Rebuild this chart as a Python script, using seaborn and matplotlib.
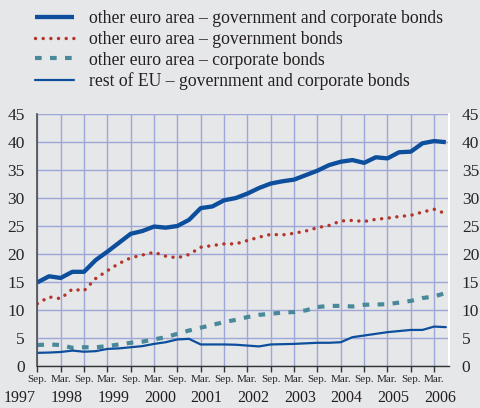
import numpy as np
import pandas as pd
import matplotlib
matplotlib.use("Agg")
import matplotlib.pyplot as plt
import seaborn as sns

# quarterly observations, Sep 1997 .. Jun 2006 (index 0 = Sep 1997)
quarters = np.arange(36)

euro_gov_corp = [14.9, 16.0, 15.7, 16.8, 16.8, 18.9, 20.4, 22.0, 23.6, 24.1,
                 24.9, 24.7, 25.0, 26.1, 28.2, 28.5, 29.6, 30.0, 30.8, 31.8,
                 32.6, 33.0, 33.3, 34.1, 34.9, 35.9, 36.5, 36.8, 36.3, 37.3,
                 37.1, 38.2, 38.3, 39.8, 40.2, 40.0]
euro_gov = [11.1, 12.3, 12.0, 13.7, 13.4, 15.6, 17.0, 18.3, 19.3, 19.8,
            20.3, 19.6, 19.3, 19.9, 21.2, 21.5, 21.8, 21.8, 22.4, 23.0,
            23.5, 23.4, 23.7, 24.1, 24.7, 25.1, 25.9, 26.0, 25.8, 26.2,
            26.4, 26.7, 26.9, 27.5, 28.0, 27.2]
euro_corp = [3.7, 3.8, 3.7, 3.2, 3.3, 3.3, 3.5, 3.8, 4.1, 4.3,
             4.7, 5.1, 5.7, 6.3, 6.8, 7.3, 7.8, 8.2, 8.7, 9.1,
             9.3, 9.5, 9.6, 9.9, 10.5, 10.7, 10.7, 10.6, 10.9, 10.95,
             11.0, 11.3, 11.6, 12.1, 12.4, 13.0]
rest_eu = [2.3, 2.35, 2.45, 2.7, 2.5, 2.6, 3.0, 3.1, 3.3, 3.5,
           3.9, 4.2, 4.7, 4.8, 3.8, 3.8, 3.8, 3.75, 3.6, 3.45,
           3.8, 3.85, 3.9, 4.0, 4.1, 4.1, 4.2, 5.1, 5.4, 5.7,
           6.0, 6.2, 6.4, 6.4, 7.0, 6.9]

labels = ["other euro area \u2013 government and corporate bonds",
          "other euro area \u2013 government bonds",
          "other euro area \u2013 corporate bonds",
          "rest of EU \u2013 government and corporate bonds"]

tick_pos = np.arange(0, 35, 2)
tick_labels = ["Sep." if i % 2 == 0 else "Mar." for i in range(len(tick_pos))]
years = list(range(1997, 2007))

bg = "#e6e7e9"
blue = "#0d4f9c"
red = "#b3362c"
teal = "#4a8999"
grid_col = "#9ea8d8"

sns.set_theme(style="white")
plt.rcParams["font.family"] = ["Liberation Serif", "DejaVu Serif"]
plt.rcParams["text.color"] = "#231f20"

fig = plt.figure(figsize=(4.81, 4.08), dpi=100, facecolor=bg)
ax = fig.add_axes([0.0776, 0.1037, 0.8565, 0.6163], facecolor=bg)

df = pd.DataFrame({"q": quarters, "a": euro_gov_corp, "b": euro_gov,
                   "c": euro_corp, "d": rest_eu})

sns.lineplot(data=df, x="q", y="a", ax=ax, color=blue, lw=3.1,
             solid_capstyle="butt", label=labels[0])
sns.lineplot(data=df, x="q", y="b", ax=ax, color=red, lw=2.5,
             linestyle=(0, (0.01, 2.2)), dash_capstyle="round", label=labels[1])
sns.lineplot(data=df, x="q", y="c", ax=ax, color=teal, lw=3.0,
             linestyle=(0, (1.6, 2.0)), dash_capstyle="butt", label=labels[2])
sns.lineplot(data=df, x="q", y="d", ax=ax, color=blue, lw=1.6, label=labels[3])

ax.set_xlim(0, 35.3)
ax.set_ylim(0, 45)
ax.set_yticks(np.arange(0, 46, 5))
ax.set_xticks(tick_pos)
ax.set_xticklabels(tick_labels, fontsize=8)
ax.set_xlabel("")
ax.set_ylabel("")

ax.tick_params(axis="y", length=0, pad=9, labelsize=12.5,
               labelleft=True, labelright=True)
ax.tick_params(axis="x", direction="out", length=4, width=1, color="#333333",
               pad=3, bottom=True)

ax.set_axisbelow(True)
ax.grid(True, color=grid_col, lw=1.0)

ax.spines["top"].set_visible(False)
ax.spines["left"].set_color("#4d4d4d")
ax.spines["left"].set_linewidth(1.2)
ax.spines["right"].set_color("white")
ax.spines["right"].set_linewidth(1.5)
ax.spines["bottom"].set_color("#333333")
ax.spines["bottom"].set_linewidth(1.0)

# year labels under the Sep./Mar. ticks
for y in years:
    ax.text((y - 1997) * 4 - 1.5, -0.13, str(y), transform=ax.get_xaxis_transform(),
            ha="center", va="center", fontsize=11.5, clip_on=False)

leg = ax.legend(loc="upper left", bbox_to_anchor=(35 / 481, 0.975),
                bbox_transform=fig.transFigure, frameon=False, fontsize=12.7,
                handlelength=2.2, handletextpad=0.85, labelspacing=0.21,
                borderpad=0, borderaxespad=0)

fig.savefig("out.png", dpi=100, facecolor=bg)
